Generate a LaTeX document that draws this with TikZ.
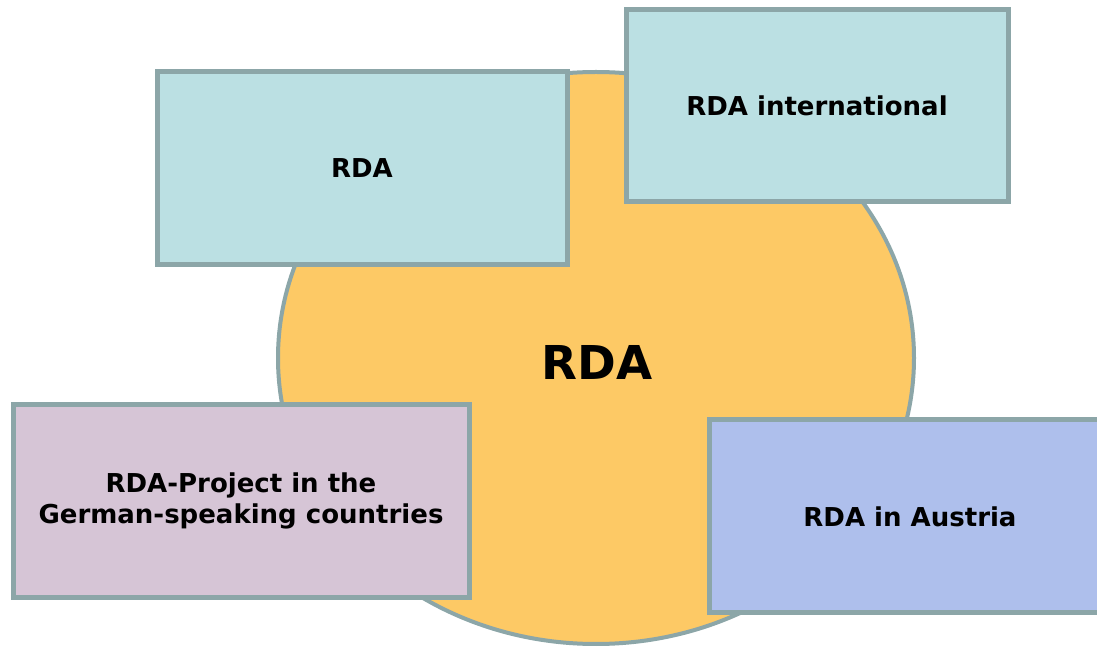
\documentclass[tikz,border=0pt]{standalone}
\usepackage{fontspec}
\setmainfont{DejaVu Sans}
\usetikzlibrary{shapes.geometric}
\definecolor{edgec}{HTML}{8CA6A8}
\definecolor{sun}{HTML}{FDC965}
\definecolor{teal}{HTML}{BBE0E3}
\definecolor{lilac}{HTML}{D6C5D6}
\definecolor{periw}{HTML}{AEBFEC}
\tikzset{
  panel/.style={draw=edgec, line width=3.75pt, rectangle, inner sep=0pt, align=center,
    font=\bfseries\fontsize{19.5pt}{23.5pt}\selectfont, text=black},
  hub/.style={draw=edgec, line width=3pt, ellipse, fill=sun, inner sep=0pt,
    font=\bfseries\fontsize{35pt}{42pt}\selectfont}
}
\begin{document}
\begin{tikzpicture}[x=0.75pt,y=-0.75pt]
\useasboundingbox (0,0) rectangle (1097,648);
\clip (0,0) rectangle (1097,648);
\node[hub, minimum width=477pt, minimum height=429pt] (hub) at (596,358) {};
\node[font=\bfseries\fontsize{35pt}{42pt}\selectfont] (hubtext) at (597,362) {RDA};
\node[panel, fill=teal, minimum width=307.5pt, minimum height=144.75pt] (rda) at (362,168.5) {\raisebox{-1.5pt}{RDA}};
\node[panel, fill=teal, minimum width=286.5pt, minimum height=144pt] (intl) at (817,106) {\raisebox{-1pt}{RDA international}};
\node[panel, fill=lilac, minimum width=342pt, minimum height=144.75pt] (ger) at (241,501.5) {\raisebox{-2.5pt}{\begin{tabular}{@{}c@{}}RDA-Project in the\\German-speaking countries\end{tabular}}};
\node[panel, fill=periw, minimum width=301.5pt, minimum height=144.75pt] (aut) at (910,516.5) {\raisebox{-1.5pt}{RDA in Austria}};
\end{tikzpicture}
\end{document}
